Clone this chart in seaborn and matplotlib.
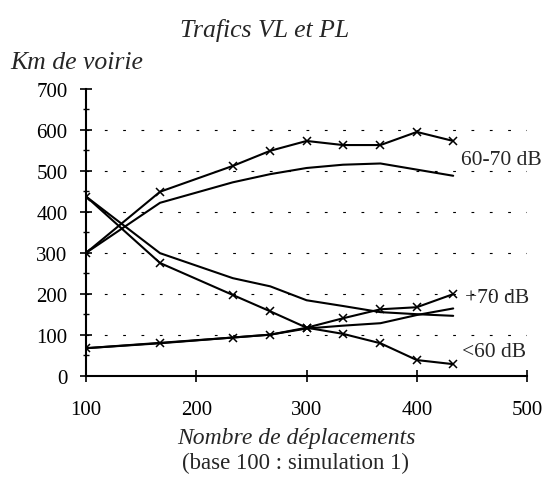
import matplotlib
matplotlib.use("Agg")
import matplotlib.pyplot as plt
import seaborn as sns
import pandas as pd
from matplotlib.ticker import MultipleLocator

sns.set_theme(style="ticks")
plt.rcParams["font.family"] = ["Liberation Serif", "DejaVu Serif"]

# Number of trips (base 100 : simulation 1)
deplacements = [100, 167, 233, 267, 300, 333, 367, 400, 433]

# Km of roads per noise class, two traffic scenarios (with / without markers)
km_60_70_a = [300, 449, 512, 549, 573, 563, 563, 595, 573]
km_60_70_b = [300, 422, 472, 492, 507, 515, 518, 503, 488]
km_moins60_a = [437, 275, 197, 157, 117, 102, 79, 38, 28]
km_moins60_b = [437, 299, 238, 218, 184, 170, 155, 150, 146]
km_plus70_a = [67, 79, 93, 100, 117, 140, 162, 167, 199]
km_plus70_b = [67, 80, 93, 100, 115, 122, 128, 148, 164]

series = {
    "60-70 a": (km_60_70_a, True),
    "60-70 b": (km_60_70_b, False),
    "<60 a": (km_moins60_a, True),
    "<60 b": (km_moins60_b, False),
    "+70 a": (km_plus70_a, True),
    "+70 b": (km_plus70_b, False),
}

frames = []
for name, (vals, _) in series.items():
    frames.append(pd.DataFrame({"deplacements": deplacements, "km": vals, "serie": name}))
df = pd.concat(frames, ignore_index=True)

fig = plt.figure(figsize=(5.49, 4.81), dpi=100)
ax = fig.add_axes([0.157, 0.217, 0.803, 0.596])

for name, (vals, marked) in series.items():
    sub = df[df["serie"] == name]
    sns.lineplot(data=sub, x="deplacements", y="km", ax=ax, color="black",
                 linewidth=1.5, marker="x" if marked else None,
                 markersize=5.5, markeredgewidth=1.1, markeredgecolor="black",
                 legend=False, sort=False)

# Dotted horizontal reference lines
for yv in range(100, 700, 100):
    ax.axhline(yv, color="black", linewidth=0.8, linestyle=(0, (2.5, 14)), zorder=0)

ax.set_xlim(100, 500)
ax.set_ylim(0, 700)
ax.xaxis.set_major_locator(MultipleLocator(100))
ax.yaxis.set_major_locator(MultipleLocator(100))
ax.yaxis.set_minor_locator(MultipleLocator(50))

for s in ["top", "right"]:
    ax.spines[s].set_visible(False)
for s in ["left", "bottom"]:
    ax.spines[s].set_color("black")
    ax.spines[s].set_linewidth(1.5)

ax.tick_params(axis="both", which="major", direction="inout", length=9, width=1.2,
               colors="black", labelsize=15, bottom=True, left=True)
ax.tick_params(axis="y", which="minor", direction="inout", length=5, width=1.0,
               colors="black", left=True)
ax.tick_params(axis="y", which="major", pad=9)
ax.tick_params(axis="x", which="major", pad=13)
ax.set_xlabel("")
ax.set_ylabel("")

# Series labels at line ends
ax.text(440, 528, "60-70 dB", fontsize=15.5, va="center", ha="left")
ax.text(444, 190, "+70 dB", fontsize=15.5, va="center", ha="left")
ax.text(441, 58, "<60 dB", fontsize=15.5, va="center", ha="left")

fig.text(265 / 549, 1 - 30 / 481, "Trafics VL et PL", fontsize=18.5, style="italic",
         ha="center", va="center")
fig.text(10 / 549, 1 - 63 / 481, "Km de voirie", fontsize=18.5, style="italic",
         ha="left", va="center")
fig.text(296 / 549, 1 - 439 / 481, "Nombre de déplacements", fontsize=17,
         style="italic", ha="center", va="center")
fig.text(296 / 549, 1 - 463 / 481, "(base 100 : simulation 1)", fontsize=16.5,
         ha="center", va="center")

fig.savefig("out.png", dpi=100, facecolor="white")
